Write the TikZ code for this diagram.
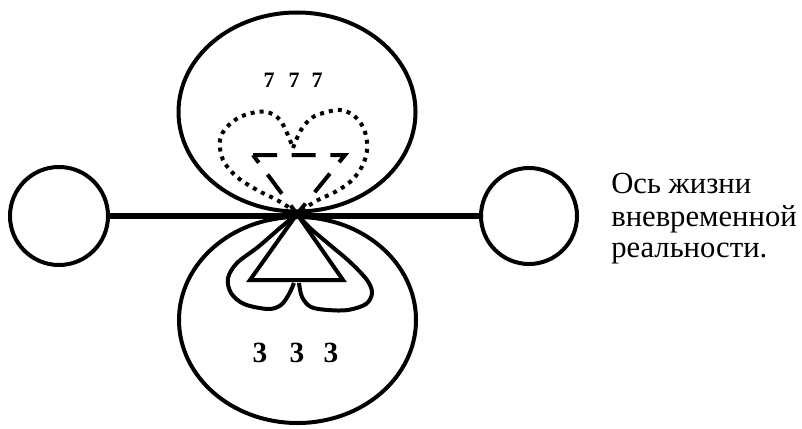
\documentclass[tikz,border=0pt]{standalone}
\usepackage{fontspec}
\setmainfont{Liberation Serif}
\usetikzlibrary{shapes.geometric}
\begin{document}
\begin{tikzpicture}[x=0.75pt,y=-0.75pt,
  ring/.style={draw, circle, line width=3pt, inner sep=0pt},
  oval/.style={draw, ellipse, line width=3pt, inner sep=0pt},
  axisline/.style={line width=4pt},
  outline/.style={line width=3pt, line join=miter},
  dashline/.style={line width=3pt, dash pattern=on 18pt off 11pt},
  dotline/.style={line width=3pt, dash pattern=on 3pt off 3.8pt},
  digsmall/.style={inner sep=0pt, font=\bfseries\fontsize{16.5}{18}\selectfont},
  digbig/.style={inner sep=0pt, font=\bfseries\fontsize{22}{24}\selectfont},
  label/.style={anchor=base west, inner sep=0pt, font=\fontsize{23}{28}\selectfont}
]
\useasboundingbox (0,0) rectangle (802,428);
\node[ring, minimum size=73.5pt] (lc) at (59,216) {};
\node[ring, minimum size=72pt] (rc) at (529,216) {};
\node[oval, minimum width=177.75pt, minimum height=149.25pt] (top) at (297,112) {};
\node[oval, minimum width=177.75pt, minimum height=154.5pt] (bot) at (297.5,320) {};
\draw[axisline] (lc.east) -- (rc.west);
% numbers
\node[digsmall] (s1) at (269,80) {7};
\node[digsmall] (s2) at (294,80) {7};
\node[digsmall] (s3) at (317,80) {7};
\node[digbig] (b1) at (260,353) {3};
\node[digbig] (b2) at (297,353) {3};
\node[digbig] (b3) at (331,353) {3};
% caption
\node[label] (t1) at (611,193) {Ось жизни};
\node[label] (t2) at (611,226) {вневременной};
\node[label] (t3) at (611,257) {реальности.};
% solid triangle
\coordinate (apex) at (297,214);
\draw[outline] (apex) -- (250,280) -- (343,280) -- cycle;
% dashed inverted triangle
\draw[dashline] (253,155) -- (345,155) -- (apex) -- cycle;
% dotted heart
\draw[dotline] plot[smooth, tension=0.6] coordinates {(296,212) (277,200) (257,190) (237,177) (223,160) (220,140) (227,127) (240,117) (257,112) (270,113) (280,120) (287,133) (293,148)};
\draw[dotline] plot[smooth, tension=0.6] coordinates {(293,148) (297,138) (303,127) (313,117) (327,112) (340,110) (353,115) (363,127) (367,142) (366,156) (360,170) (350,182) (335,192) (318,200) (305,208) (298,212)};
% solid petals
\draw[outline] plot[smooth, tension=0.55] coordinates {(apex) (280,228) (258,247) (237,263) (228,278) (231,293) (244,304) (268,309) (281,305) (289,294) (294,283)};
\draw[outline] plot[smooth, tension=0.55] coordinates {(299,283) (302,297) (311,307) (328,310) (348,310) (366,304) (372,293) (367,280) (350,262) (330,245) (310,228) (apex)};
\end{tikzpicture}
\end{document}
